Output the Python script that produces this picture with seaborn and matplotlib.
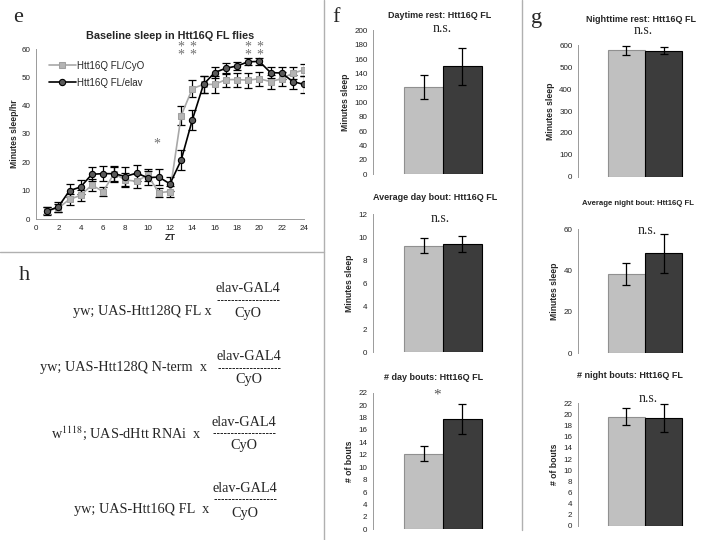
import matplotlib
matplotlib.use('Agg')
import matplotlib.pyplot as plt
from matplotlib.lines import Line2D
import seaborn as sns
import pandas as pd

# --- panel e: hourly sleep ---
zt = list(range(1, 25))
cyo_sleep = [3.0, 3.8, 7.0, 8.3, 12.0, 9.7, 16.0, 13.8, 13.3, 15.5, 9.3, 9.7,
             36.5, 46.0, 47.5, 47.5, 49.2, 49.2, 49.0, 49.5, 48.5, 49.5, 51.5, 52.6]
cyo_err = [1.3, 1.5, 2.0, 2.0, 2.0, 1.5, 2.5, 2.5, 2.5, 2.0, 1.5, 2.0,
           3.3, 3.0, 3.0, 3.0, 2.5, 2.5, 2.7, 2.5, 2.5, 2.5, 2.0, 2.0]
elav_sleep = [2.8, 4.3, 10.0, 11.3, 15.8, 16.0, 16.0, 15.0, 16.2, 14.6, 14.8, 12.4,
              20.8, 35.0, 47.5, 51.7, 53.2, 54.0, 55.5, 55.6, 51.7, 51.5, 48.5, 47.5]
elav_err = [1.5, 1.8, 2.2, 2.5, 2.5, 2.7, 2.8, 3.3, 2.8, 2.5, 2.8, 2.5,
            3.5, 3.5, 3.0, 2.0, 2.0, 1.5, 1.2, 1.2, 2.0, 2.0, 2.5, 3.0]
single_star_zt = [10.8]
double_star_zt = [13, 14, 19, 20]

genotypes = ['Htt16Q FL/CyO', 'Htt16Q FL/elav']

# --- panels f and g: bar charts (CyO, elav) ---
bar_titles = ['Daytime rest: Htt16Q FL', 'Average day bout: Htt16Q FL', '# day bouts: Htt16Q FL',
              'Nighttime rest: Htt16Q FL', 'Average night bout: Htt16Q FL', '# night bouts: Htt16Q FL']
bar_ylabels = ['Minutes sleep', 'Minutes sleep', '# of bouts',
               'Minutes sleep', 'Minutes sleep', '# of bouts']
bar_values = [[121, 150], [9.25, 9.4], [12.2, 17.8],
              [578, 575], [38.3, 48.4], [19.6, 19.3]]
bar_errors = [[17, 26], [0.65, 0.7], [1.2, 2.4],
              [21, 16], [5.2, 9.5], [1.5, 2.5]]
bar_ymax = [200, 12, 22, 600, 60, 22]
bar_ystep = [20, 2, 2, 100, 20, 2]
bar_sig = ['n.s.', 'n.s.', '*', 'n.s.', 'n.s.', 'n.s.']

# --- panel h: crosses ---
cross_left = ['yw; UAS-Htt128Q FL x', 'yw; UAS-Htt128Q N-term  x',
              'w$^{1118}$; UAS-dHtt RNAi  x', 'yw; UAS-Htt16Q FL  x']
cross_top = 'elav-GAL4'
cross_bottom = 'CyO'

sns.set_style('white')
plt.rcParams['font.family'] = ['Liberation Sans', 'DejaVu Sans']
plt.rcParams['mathtext.fontset'] = 'stix'

W, H = 720, 540
fig = plt.figure(figsize=(7.2, 5.4), dpi=100)


def rect(l, t, r, b):
    return [l / W, 1 - b / H, (r - l) / W, (b - t) / H]


def ftext(x, y, s, **kw):
    return fig.text(x / W, 1 - y / H, s, **kw)


serif = ['Liberation Serif', 'DejaVu Serif']
light, dark = '#c0c0c0', '#3c3c3c'
axis_grey = '#9a9a9a'

# panel e
ax = fig.add_axes(rect(36, 49, 304, 219))
df_e = pd.DataFrame({'ZT': zt * 2,
                     'sleep': cyo_sleep + elav_sleep,
                     'genotype': [genotypes[0]] * 24 + [genotypes[1]] * 24})
ax.errorbar(zt, cyo_sleep, yerr=cyo_err, fmt='none', ecolor='black', elinewidth=0.9,
            capsize=3.2, capthick=0.9, zorder=2)
ax.errorbar(zt, elav_sleep, yerr=elav_err, fmt='none', ecolor='black', elinewidth=0.9,
            capsize=3.2, capthick=0.9, zorder=2)
sns.lineplot(data=df_e[df_e.genotype == genotypes[0]], x='ZT', y='sleep', ax=ax,
             color='#a8a8a8', marker='s', markersize=5, markerfacecolor='#b4b4b4',
             markeredgecolor='#a0a0a0', linewidth=1.2, label=genotypes[0], zorder=3)
sns.lineplot(data=df_e[df_e.genotype == genotypes[1]], x='ZT', y='sleep', ax=ax,
             color='black', marker='o', markersize=4.5, markerfacecolor='#5a5a5a',
             markeredgecolor='black', markeredgewidth=0.8, linewidth=1.2,
             label=genotypes[1], zorder=4)
ax.set_xlim(0, 24)
ax.set_ylim(0, 60)
ax.set_xticks(range(0, 25, 2))
ax.set_yticks(range(0, 61, 10))
ax.tick_params(labelsize=5.8, length=2, width=0.6, colors=axis_grey, labelcolor='#222222', pad=2)
for s in ['top', 'right']:
    ax.spines[s].set_visible(False)
for s in ['left', 'bottom']:
    ax.spines[s].set_color(axis_grey)
    ax.spines[s].set_linewidth(0.7)
ax.set_xlabel('ZT', fontsize=6.5, fontweight='bold', labelpad=1)
ax.set_ylabel('Minutes sleep/hr', fontsize=6.2, fontweight='bold', labelpad=2)
ax.set_title('Baseline sleep in Htt16Q FL flies', fontsize=7.8, fontweight='bold', pad=7)
ax.legend(loc='upper left', bbox_to_anchor=(0.035, 0.955), frameon=False, fontsize=7,
          handlelength=2.7, handletextpad=0.2, labelspacing=0.75, borderaxespad=0)
for x in single_star_zt:
    ax.text(x, 26.5, '*', fontsize=10, family=serif, color='#707070', ha='center', va='center')
for x in double_star_zt:
    ax.text(x, 59.3, '*\n*', fontsize=10, family=serif, color='#707070', ha='center',
            va='center', linespacing=0.5, clip_on=False)

# panels f and g
bar_rects = [rect(373, 30.3, 513, 174.3), rect(373, 214.3, 513, 352.3), rect(373, 392.7, 513, 529.3),
             rect(578, 45.3, 712, 176.7), rect(578, 229.3, 712, 353.3), rect(578, 403.3, 712, 526)]
title_xy = [(440, 15), (435, 197), (434, 377), (641, 20), (638, 203), (630, 376)]
sig_xy = [(442, 29), (440, 218), (437, 395), (643, 31), (647, 230), (648, 399)]
for i in range(6):
    axb = fig.add_axes(bar_rects[i])
    df_b = pd.DataFrame({'genotype': genotypes, 'value': bar_values[i]})
    sns.barplot(data=df_b, x='genotype', y='value', hue='genotype', palette=[light, dark],
                width=1.0, errorbar=None, legend=False, ax=axb, linewidth=0.8)
    for patch, ec in zip(axb.patches, ['#909090', 'black']):
        patch.set_edgecolor(ec)
    axb.errorbar([0, 1], bar_values[i], yerr=bar_errors[i], fmt='none', ecolor='black',
                 elinewidth=0.9, capsize=3.2, capthick=0.9, clip_on=False, zorder=5)
    axb.set_xlim(-1.3, 2.3)
    axb.set_ylim(0, bar_ymax[i])
    axb.set_yticks(range(0, int(bar_ymax[i]) + 1, bar_ystep[i]))
    axb.set_xticks([])
    axb.set_xlabel('')
    axb.set_ylabel(bar_ylabels[i], fontsize=6.2, fontweight='bold', labelpad=3)
    fs = 5.6 if i == 4 else 6.5
    ftext(*title_xy[i], bar_titles[i], fontsize=fs, fontweight='bold', ha='center', va='center')
    axb.tick_params(axis='y', labelsize=5.8, length=2, width=0.6, colors=axis_grey,
                    labelcolor='#222222', pad=2)
    for s in ['top', 'right', 'bottom']:
        axb.spines[s].set_visible(False)
    axb.spines['left'].set_color(axis_grey)
    axb.spines['left'].set_linewidth(0.7)
    if bar_sig[i] == '*':
        ftext(*sig_xy[i], '*', fontsize=11, family=serif, color='#555555', ha='center', va='center')
    else:
        ftext(*sig_xy[i], bar_sig[i], fontsize=10, family=serif, color='#222222',
              ha='center', va='center')

# panel h
left_right = [212, 207, 202, 209]
left_y = [311, 368, 433, 509]
frac_x = [248, 249, 244, 245]
frac_top = [289, 357, 422, 488]
frac_mid = [300, 368, 433, 499]
frac_bot = [313, 380, 446, 513]
for k in range(4):
    ftext(left_right[k], left_y[k], cross_left[k], fontsize=10.3, family=serif,
          ha='right', va='center')
    ftext(frac_x[k], frac_top[k], cross_top, fontsize=10.3, family=serif, ha='center', va='center')
    ftext(frac_x[k], frac_bot[k], cross_bottom, fontsize=10.3, family=serif,
          ha='center', va='center')
    # dashed fraction bar under elav-GAL4
    yb = 1 - frac_mid[k] / H
    fig.add_artist(Line2D([(frac_x[k] - 31) / W, (frac_x[k] + 31) / W], [yb, yb],
                          color='#222222', lw=0.7, dashes=(2.6, 1.0)))

# panel letters
for letter, (lx, ly) in zip('efgh', [(18, 17), (336, 17), (537, 18), (24, 276)]):
    ftext(lx, ly, letter, fontsize=16, family=serif, ha='center', va='center')

# separator lines
fig.add_artist(Line2D([0, 324 / W], [1 - 252 / H, 1 - 252 / H], color='#b0b0b0', lw=1))
fig.add_artist(Line2D([324 / W, 324 / W], [0, 1], color='#b0b0b0', lw=1))
fig.add_artist(Line2D([522 / W, 522 / W], [1 - 530 / H, 1], color='#b0b0b0', lw=1))

fig.savefig('out.png', dpi=100)
